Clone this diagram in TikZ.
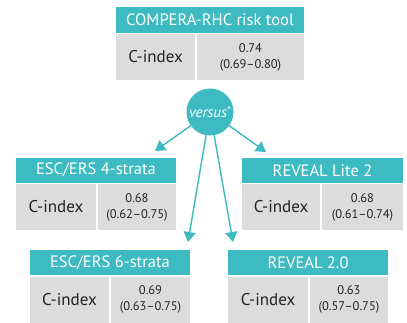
\documentclass[tikz,border=0pt]{standalone}
\usepackage{fontspec}
\setmainfont{PT Sans}
\usetikzlibrary{arrows.meta}
\definecolor{tealc}{RGB}{62,187,192}
\definecolor{cellgrey}{RGB}{220,220,220}
\definecolor{txtc}{RGB}{35,35,35}
\tikzset{
  hdr/.style={fill=tealc, text=white, inner sep=0pt, font=\fontsize{16.5}{17}\selectfont},
  lab/.style={fill=cellgrey, text=txtc, inner sep=0pt, font=\fontsize{17}{17}\selectfont},
  val/.style={fill=cellgrey, text=txtc, inner sep=0pt, align=center, font=\fontsize{12.5}{16}\selectfont},
  vsnode/.style={circle, fill=tealc, text=white, minimum size=47pt, inner sep=0pt, font=\fontsize{15}{15}\selectfont},
  conn/.style={draw=tealc, line width=1.4pt, -{Triangle[length=10pt,width=12pt]}}
}
% #1 name, #2 x left, #3 y top, #4 split x, #5 x right, #6 header bottom, #7 bottom, #8 title, #9 value
\newcommand\cibox[9]{%
  \node[hdr, minimum width={(#5-#2)*1pt}, minimum height={(#6-#3)*1pt}] (#1h) at ({(#2+#5)/2},{(#3+#6)/2}) {#8};
  \node[lab, minimum width={(#4-#2-1)*1pt}, minimum height={(#7-#6-1.5)*1pt}] (#1l) at ({(#2+#4-1)/2},{(#6+1.5+#7)/2}) {C-index};
  \node[val, minimum width={(#5-#4-1)*1pt}, minimum height={(#7-#6-1.5)*1pt}] (#1v) at ({(#4+1+#5)/2},{(#6+1.5+#7)/2}) {#9};
}
\begin{document}
\begin{tikzpicture}[x=1pt,y=-1pt]
\useasboundingbox (0,0) rectangle (407,322);
\fill[white] (0,0) rectangle (407,322);
\cibox{top}{116}{7}{196}{304}{32.5}{80}{COMPERA-RHC risk tool}{0.74\\(0.69–0.80)}
\cibox{ef}{16}{158}{97}{176}{182.5}{230}{ESC/ERS 4-strata}{0.68\\(0.62–0.75)}
\cibox{rl}{242}{158}{321}{403}{182.5}{230}{REVEAL Lite 2}{0.68\\(0.61–0.74)}
\cibox{es}{30}{250}{110}{190}{275}{323}{ESC/ERS 6-strata}{0.69\\(0.63–0.75)}
\cibox{rt}{228}{250}{309}{388}{275}{323}{REVEAL 2.0}{0.63\\(0.57–0.75)}
\node[vsnode] (vs) at (210,112) {\textit{versus}\raisebox{3.5pt}{\fontsize{11}{11}\selectfont *}};
\coordinate (t1) at (155,151);
\coordinate (t2) at (266,152);
\coordinate (t3) at (188,242);
\coordinate (t4) at (233,242);
\draw[conn] (vs) -- (t1);
\draw[conn] (vs) -- (t2);
\draw[conn] (vs) -- (t3);
\draw[conn] (vs) -- (t4);
\end{tikzpicture}
\end{document}
